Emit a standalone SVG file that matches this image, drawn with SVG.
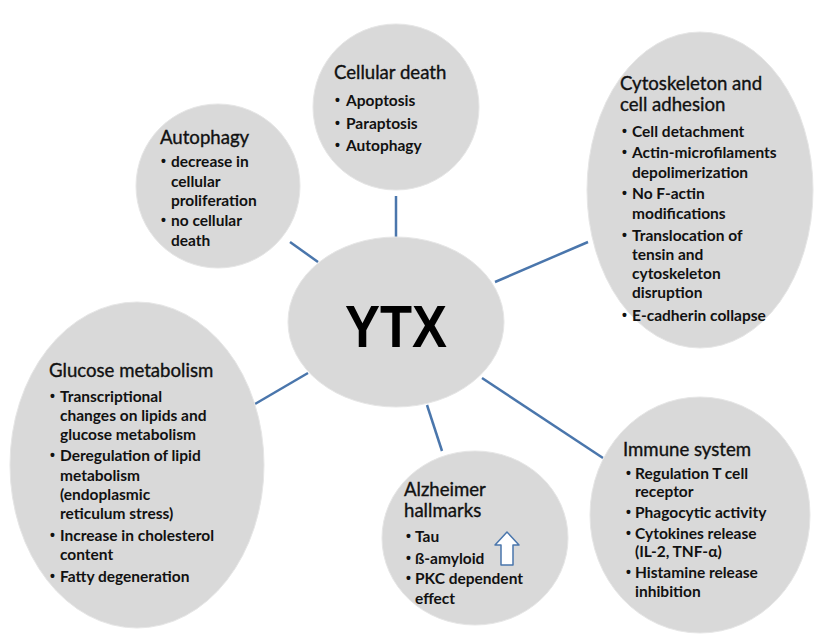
<svg xmlns="http://www.w3.org/2000/svg" width="814" height="641" viewBox="0 0 814 641">
<style>
.n{fill:#d9d9d9;stroke:#e6e6e6;stroke-width:1}
.c{stroke:#4a76ac;stroke-width:2.5;fill:none}
.t{font-family:Lato,"Open Sans",sans-serif;font-size:18.6px;fill:#111;stroke:#111;stroke-width:0.35}
.b{font-family:Lato,"Open Sans",sans-serif;font-size:15.5px;font-weight:bold;fill:#111}
.d{font-family:"Liberation Sans",Arial,sans-serif;font-size:14px;font-weight:bold;fill:#111}
.y{font-family:"Liberation Sans",Arial,sans-serif;font-weight:bold;font-size:60px;fill:#000}
</style>
<rect width="814" height="641" fill="#fff"/>
<g id="connectors">
<line class="c" x1="396" y1="196" x2="396" y2="237"/>
<line class="c" x1="290" y1="242" x2="318" y2="262"/>
<line class="c" x1="495" y1="282" x2="588" y2="242"/>
<line class="c" x1="255" y1="404" x2="308" y2="373"/>
<line class="c" x1="427" y1="405" x2="442" y2="451"/>
<line class="c" x1="482" y1="378" x2="603" y2="458"/>
</g>
<g id="ytx">
<ellipse class="n" cx="396" cy="322" rx="108" ry="85"/>
<text class="y" x="396" y="347" text-anchor="middle" textLength="102" lengthAdjust="spacingAndGlyphs">YTX</text>
</g>
<g id="cellular-death">
<circle class="n" cx="396" cy="107" r="83"/>
<text class="t" x="334" y="79">Cellular death</text>
<text class="d"><tspan x="335" y="105">•</tspan><tspan x="335" y="128">•</tspan><tspan x="335" y="150">•</tspan></text>
<text class="b"><tspan x="346" y="106">Apoptosis</tspan><tspan x="346" y="129">Paraptosis</tspan><tspan x="346" y="151">Autophagy</tspan></text>
</g>
<g id="autophagy">
<circle class="n" cx="218" cy="186" r="82"/>
<text class="t" x="160" y="144">Autophagy</text>
<text class="d"><tspan x="161" y="166">•</tspan><tspan x="161" y="225">•</tspan></text>
<text class="b"><tspan x="171" y="167">decrease in</tspan><tspan x="171" y="187">cellular</tspan><tspan x="171" y="206">proliferation</tspan><tspan x="171" y="226">no cellular</tspan><tspan x="171" y="246">death</tspan></text>
</g>
<g id="cytoskeleton">
<ellipse class="n" cx="700" cy="190" rx="113" ry="158"/>
<text class="t"><tspan x="620" y="90">Cytoskeleton and</tspan><tspan x="620" y="111">cell adhesion</tspan></text>
<text class="d"><tspan x="622" y="136">•</tspan><tspan x="622" y="157">•</tspan><tspan x="622" y="198">•</tspan><tspan x="622" y="240">•</tspan><tspan x="622" y="320">•</tspan></text>
<text class="b"><tspan x="632" y="137">Cell detachment</tspan><tspan x="632" y="158">Actin-microfilaments</tspan><tspan x="632" y="178">depolimerization</tspan><tspan x="632" y="199">No F-actin</tspan><tspan x="632" y="219">modifications</tspan><tspan x="632" y="241">Translocation of</tspan><tspan x="632" y="260">tensin and</tspan><tspan x="632" y="279">cytoskeleton</tspan><tspan x="632" y="298">disruption</tspan><tspan x="632" y="321">E-cadherin collapse</tspan></text>
</g>
<g id="glucose">
<ellipse class="n" cx="137" cy="465" rx="127" ry="163"/>
<text class="t" x="49" y="377">Glucose metabolism</text>
<text class="d"><tspan x="50" y="401">•</tspan><tspan x="50" y="460">•</tspan><tspan x="50" y="540">•</tspan><tspan x="50" y="581">•</tspan></text>
<text class="b"><tspan x="60" y="402">Transcriptional</tspan><tspan x="60" y="421">changes on lipids and</tspan><tspan x="60" y="440">glucose metabolism</tspan><tspan x="60" y="461">Deregulation of lipid</tspan><tspan x="60" y="481">metabolism</tspan><tspan x="60" y="500">(endoplasmic</tspan><tspan x="60" y="519">reticulum stress)</tspan><tspan x="60" y="541">Increase in cholesterol</tspan><tspan x="60" y="560">content</tspan><tspan x="60" y="582">Fatty degeneration</tspan></text>
</g>
<g id="alzheimer">
<ellipse class="n" cx="475" cy="538" rx="93" ry="87"/>
<text class="t"><tspan x="404" y="496">Alzheimer</tspan><tspan x="404" y="517">hallmarks</tspan></text>
<text class="d"><tspan x="406" y="541">•</tspan><tspan x="406" y="563">•</tspan><tspan x="406" y="583">•</tspan></text>
<text class="b"><tspan x="415" y="542">Tau</tspan><tspan x="415" y="564">ß-amyloid</tspan><tspan x="415" y="584">PKC dependent</tspan><tspan x="415" y="604">effect</tspan></text>
<path d="M507 532 L519 545 L513 545 L513 565 L501 565 L501 545 L495 545 Z" fill="#fff" stroke="#4a76ac" stroke-width="1.5" stroke-linejoin="round"/>
</g>
<g id="immune">
<ellipse class="n" cx="700" cy="515" rx="110" ry="118"/>
<text class="t" x="623" y="456">Immune system</text>
<text class="d"><tspan x="626" y="478">•</tspan><tspan x="626" y="517">•</tspan><tspan x="626" y="538">•</tspan><tspan x="626" y="577">•</tspan></text>
<text class="b"><tspan x="635" y="479">Regulation T cell</tspan><tspan x="635" y="497">receptor</tspan><tspan x="635" y="518">Phagocytic activity</tspan><tspan x="635" y="539">Cytokines release</tspan><tspan x="635" y="557">(IL-2, TNF-α)</tspan><tspan x="635" y="578">Histamine release</tspan><tspan x="635" y="597">inhibition</tspan></text>
</g>
</svg>
